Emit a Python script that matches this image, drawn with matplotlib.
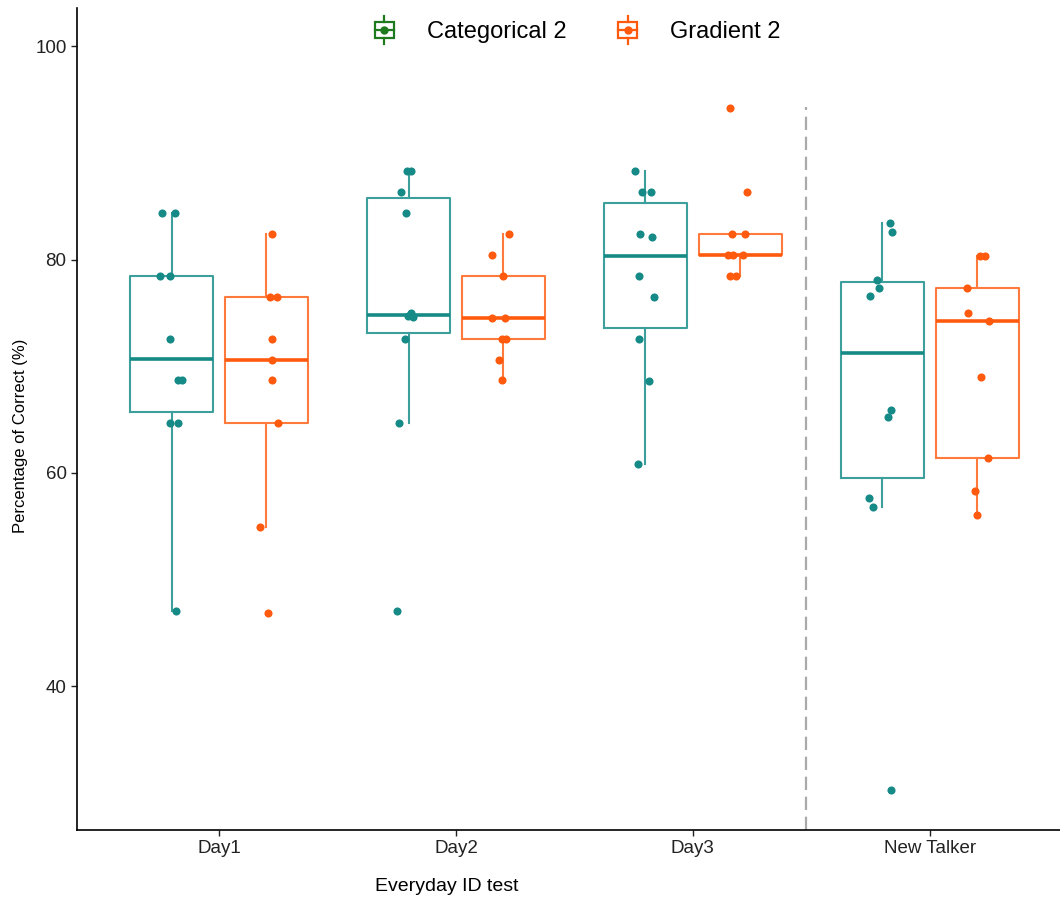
import matplotlib
matplotlib.use("Agg")
import matplotlib.pyplot as plt
from matplotlib.legend_handler import HandlerBase
from matplotlib.patches import Rectangle
from matplotlib.lines import Line2D

plt.rcParams['font.family'] = ['Liberation Sans', 'DejaVu Sans']

# --- data ---------------------------------------------------------------
days = ["Day1", "Day2", "Day3", "New Talker"]
groups = ["Categorical 2", "Gradient 2"]

categorical = [
    [84.4, 84.4, 78.5, 78.5, 72.6, 68.7, 68.7, 64.7, 64.7, 47.0],
    [88.3, 88.3, 86.3, 84.4, 75.0, 74.7, 74.6, 72.6, 64.7, 47.0],
    [88.3, 86.3, 86.3, 82.4, 82.1, 78.5, 76.5, 72.6, 68.6, 60.8],
    [83.4, 82.6, 78.1, 77.35, 76.6, 65.9, 65.2, 57.6, 56.8, 30.25],
]
gradient = [
    [82.4, 76.5, 76.5, 72.6, 70.6, 68.7, 64.7, 54.9, 46.9],
    [82.4, 80.4, 78.5, 74.5, 74.5, 72.6, 72.6, 70.6, 68.7],
    [94.2, 86.3, 82.4, 82.4, 80.4, 80.4, 80.4, 78.5, 78.5],
    [80.3, 80.3, 77.35, 75.0, 74.25, 69.0, 61.4, 58.3, 56.0],
]

# horizontal jitter of each point as drawn (pixels, 237 px = one group step)
jit_categorical = [
    [-9.5, 3.5, -11.5, -1.5, -1.5, 6.5, 10.5, -1.5, 6.5, 4.5],
    [-1.5, 2.5, -7.5, -2.5, 2.5, -0.5, 4.5, -3.5, -9.5, -11.5],
    [-10, -3, 6, -5, 7, -6, 9, -6, 4, -7],
    [7.7, 9.7, -5, -3, -12.3, 9, 6, -13, -9, 8.7],
]
jit_gradient = [
    [5.5, 3.5, 10.5, 5.5, 5.5, 5.5, 11.5, -6.5, 1.5],
    [5.5, -11.5, -0.5, -11.5, 1.5, -1.5, 2.5, -4.5, -1.5],
    [-10, 7, -8, 5, -12, -7, 3, -10, -4],
    [2.5, 7.5, -10.5, -8.8, 12.2, 4.2, 10.8, -1.8, -0.2],
]
PX_STEP = 237.0

teal, teal_box = '#168a86', '#3d9f9b'
orange, orange_box = '#ff5a0e', '#ff7a3c'
legend_green = '#1f7a1f'

fig = plt.figure(figsize=(10.6, 9), dpi=100)
ax = fig.add_axes([77 / 1060, 70 / 900, 983 / 1060, 822 / 900])

offset, width = 0.2, 0.35
xpos = list(range(len(days)))

for data, jit, sign, col, bcol in [
    (categorical, jit_categorical, -1, teal, teal_box),
    (gradient, jit_gradient, 1, orange, orange_box),
]:
    pos = [x + sign * offset for x in xpos]
    ax.boxplot(data, positions=pos, widths=width, showfliers=False,
               showcaps=False, manage_ticks=False,
               boxprops=dict(color=bcol, linewidth=1.5),
               whiskerprops=dict(color=bcol, linewidth=1.5),
               medianprops=dict(color=col, linewidth=2.6))
    for p, vals, js in zip(pos, data, jit):
        ax.scatter([p + j / PX_STEP for j in js], vals, s=34, color=col,
                   zorder=3, linewidths=0)

# separator before the new-talker condition
ax.vlines(2.477, 26.5, 94.3, colors='#aaaaaa', linestyles=(0, (6, 3)),
          linewidth=1.6)

ax.set_xlim(-0.6, 3.55)
ax.set_ylim(26.5, 103.6)
ax.set_xticks(xpos)
ax.set_xticklabels(days)
ax.set_yticks([40, 60, 80, 100])
ax.tick_params(labelsize=13.5, length=4, width=1, colors='#222222')
for s in ['top', 'right']:
    ax.spines[s].set_visible(False)
for s in ['left', 'bottom']:
    ax.spines[s].set_linewidth(1.2)

ax.set_xlabel("Everyday ID test", fontsize=14)
ax.xaxis.set_label_coords(0.376, -0.058)
ax.set_ylabel("Percentage of Correct (%)", fontsize=12)
ax.yaxis.set_label_coords(-0.05, 0.48)


class BoxIcon(HandlerBase):
    def create_artists(self, legend, orig_handle, xdescent, ydescent,
                       width, height, fontsize, trans):
        c = orig_handle.get_color()
        x0, y0 = -xdescent, -ydescent
        cx, cy = x0 + width / 2, y0 + height / 2
        ext = 0.35 * height
        arts = [
            Rectangle((x0, y0), width, height, fill=False, ec=c, lw=1.6),
            Line2D([x0, x0 + width], [cy, cy], color=c, lw=1.6),
            Line2D([cx, cx], [y0 + height, y0 + height + ext], color=c, lw=1.6),
            Line2D([cx, cx], [y0 - ext, y0], color=c, lw=1.6),
            Line2D([cx], [cy], marker='o', ms=5, color=c, lw=0),
        ]
        for a in arts:
            a.set_transform(trans)
        return arts


handles = [Line2D([], [], color=legend_green), Line2D([], [], color=orange)]
ax.legend(handles, groups, ncol=2, loc='center', frameon=False,
          bbox_to_anchor=(0.545, 0.964), bbox_transform=fig.transFigure,
          fontsize=17, handlelength=0.8, handleheight=0.7,
          handletextpad=1.4, columnspacing=2.2, borderpad=0,
          handler_map={Line2D: BoxIcon()})

fig.savefig("out.png", dpi=100)
